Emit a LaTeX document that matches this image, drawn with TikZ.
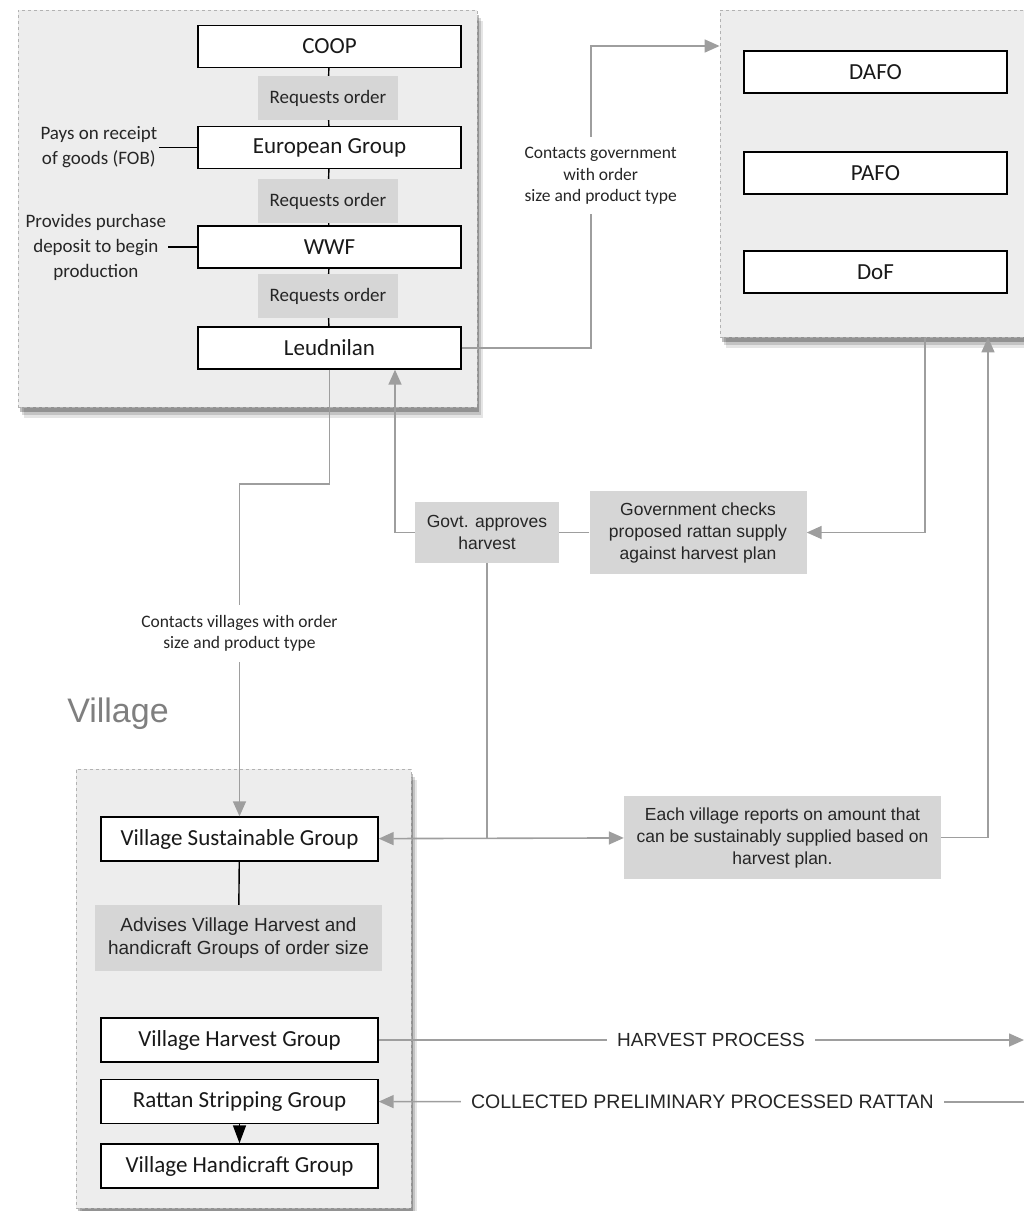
\documentclass[tikz,border=0pt]{standalone}
\usepackage{fontspec}
\setmainfont{Carlito}
\newfontfamily\helv{Liberation Sans}
\usetikzlibrary{arrows.meta, positioning, shadows}
\definecolor{panelgray}{HTML}{EDEDED}
\definecolor{notegray}{HTML}{D6D6D6}
\definecolor{flowgray}{HTML}{9E9E9E}
\definecolor{headgray}{HTML}{7F7F7F}

\begin{document}
\begin{tikzpicture}[x=1pt, y=-1pt,
    >={Triangle[length=15pt, width=13pt]},
    panel/.style={draw=black!30, dashed, line width=.8pt, fill=panelgray,
        drop shadow={shadow xshift=6pt, shadow yshift=-11pt, opacity=.10, fill=black},
        drop shadow={shadow xshift=4pt, shadow yshift=-8pt, opacity=.15, fill=black},
        drop shadow={shadow xshift=2pt, shadow yshift=-5pt, opacity=.25, fill=black}},
    unit/.style={draw=black, line width=1.4pt, fill=white, text=black!90, minimum width=263pt,
        minimum height=42pt, inner sep=0pt, font=\fontsize{23}{27}\selectfont},
    vunit/.style={unit, minimum width=277pt, minimum height=44pt},
    request/.style={fill=notegray, text=black!85, minimum width=140pt, minimum height=44pt,
        inner sep=0pt, font=\fontsize{19}{23}\selectfont},
    graynote/.style={fill=notegray, text=black!85, align=center, inner sep=0pt,
        font=\helv\fontsize{17.5}{22}\selectfont},
    sidenote/.style={align=center, inner sep=2pt, text=black!85, font=\fontsize{19}{25}\selectfont},
    flowlabel/.style={fill=white, align=center, inner xsep=4pt, inner ysep=10pt, text=black!85,
        font=\fontsize{17.5}{21.5}\selectfont},
    capslabel/.style={fill=white, inner xsep=10pt, text=black!85, font=\helv\fontsize{19}{23}\selectfont},
    link/.style={draw=black, line width=1.4pt},
    flow/.style={draw=flowgray, line width=1.6pt}]
    \clip (0,0) rectangle (1024,1211);
    \node[panel, minimum width=459pt, minimum height=397pt] (orderpanel) at (247.5,208.5) {};
    \node[panel, minimum width=324pt, minimum height=327pt] (govpanel) at (882,173.5) {};
    \node[panel, minimum width=335pt, minimum height=439pt] (villagepanel) at (243.5,988.5) {};
    \node[unit] (coop) at (329.5,46.5) {COOP};
    \node[request] (ro1) at (328,98) {Requests order};
    \node[unit] (euro) at (329.5,147.5) {European Group};
    \node[request] (ro2) at (328,201) {Requests order};
    \node[unit] (wwf) at (329.5,247) {WWF};
    \node[request] (ro3) at (328,296) {Requests order};
    \node[unit] (leud) at (329.5,348) {Leudnilan};
    \node[sidenote, left=38pt of euro] (pays) {Pays on receipt\\of goods (FOB)};
    \node[sidenote, left=29pt of wwf] (deposit) {Provides purchase\\deposit to begin\\production};
    \node[unit] (dafo) at (875.5,72) {DAFO};
    \node[unit] (pafo) at (875.5,173) {PAFO};
    \node[unit] (dof) at (875.5,272) {DoF};
    \node[graynote, minimum width=144pt, minimum height=61pt] (govok) at (487,532.5) {Govt. approves\\harvest};
    \node[graynote, minimum width=217pt, minimum height=83pt] (govcheck) at (698,532.5) {Government checks\\proposed rattan supply\\against harvest plan};
    \node[text=headgray, font=\helv\fontsize{34}{40}\selectfont] (villagehead) at (118,714) {Village};
    \node[vunit] (vsg) at (239.5,839) {Village Sustainable Group};
    \node[graynote, minimum width=287pt, minimum height=66pt, font=\helv\fontsize{19}{23}\selectfont] (advise) at (238.5,938) {Advises Village Harvest and\\handicraft Groups of order size};
    \node[vunit] (vhg) at (239.5,1040) {Village Harvest Group};
    \node[vunit] (rattan) at (239.5,1101.5) {Rattan Stripping Group};
    \node[vunit] (handi) at (239.5,1166) {Village Handicraft Group};
    \node[graynote, minimum width=317pt, minimum height=83pt] (each) at (782.5,837.5) {Each village reports on amount that\\can be sustainably supplied based on\\harvest plan.};
    \coordinate (harvestout) at (1024,1040);
    \coordinate (collectin) at (1026,1102);
    \draw[link] (coop) -- (ro1) -- (euro) -- (ro2) -- (wwf) -- (ro3) -- (leud);
    \draw[link] (pays) -- (euro);
    \draw[link] (deposit) -- (wwf);
    \draw[flow, ->] (leud.east) -- ++(129,0) |- node[pos=.285, flowlabel, xshift=10pt] {Contacts government\\with order\\size and product type} ([yshift=127.5pt]govpanel.west);
    \draw[flow, ->] ([xshift=43pt]govpanel.south) |- (govcheck.east);
    \draw[flow] (govcheck) -- (govok);
    \draw[flow, ->] (govok.west) -| ([xshift=65.5pt]leud.south);
    \draw[flow] (govok.south) -- (govok.south |- vsg.east);
    \draw[flow, <->] (vsg) -- (each);
    \draw[flow, ->] (each.east) -| ([xshift=106pt]govpanel.south);
    \draw[flow, ->] (leud.south) -- ++(0,114) -| node[pos=.725, flowlabel] {Contacts villages with order\\size and product type} (vsg.north);
    \draw[link] (vsg) -- (advise);
    \draw[flow, ->] (vhg) -- node[pos=.515, capslabel] {HARVEST PROCESS} (harvestout);
    \draw[flow, ->] (collectin) -- node[pos=.5, capslabel, font=\helv\fontsize{19.5}{23}\selectfont] {COLLECTED PRELIMINARY PROCESSED RATTAN} (rattan);
    \draw[link, -{Triangle[length=18pt, width=13pt]}] (rattan) -- (handi);
\end{tikzpicture}
\end{document}
